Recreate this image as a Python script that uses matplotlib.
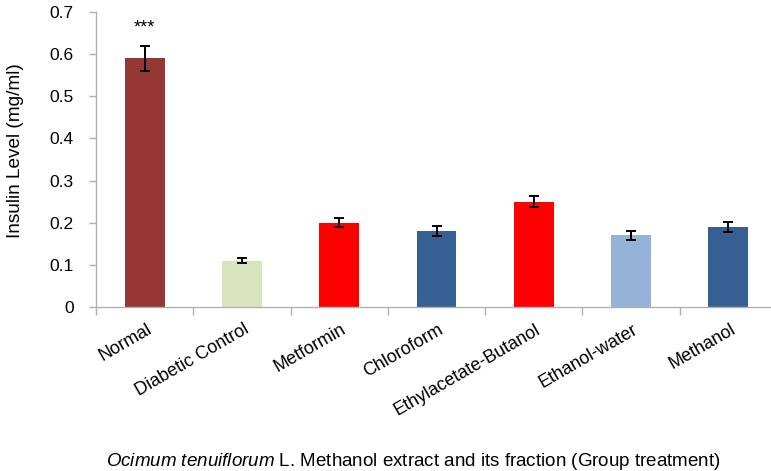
import numpy as np
import matplotlib
matplotlib.use("Agg")
import matplotlib.pyplot as plt
from matplotlib.transforms import offset_copy

plt.rcParams['font.family'] = ['Liberation Sans', 'DejaVu Sans']
plt.rcParams['mathtext.fontset'] = 'custom'
plt.rcParams['mathtext.rm'] = 'Liberation Sans'
plt.rcParams['mathtext.it'] = 'Liberation Sans:italic'

# data
groups = ["Normal", "Diabetic Control", "Metformin", "Chloroform",
          "Ethylacetate-Butanol", "Ethanol-water", "Methanol"]
insulin = [0.59, 0.11, 0.20, 0.18, 0.25, 0.17, 0.19]
sem = [0.030, 0.006, 0.011, 0.012, 0.013, 0.010, 0.011]
colors = ["#953735", "#d7e4bd", "#ff0000", "#376092", "#ff0000", "#95b3d7", "#376092"]

fig = plt.figure(figsize=(7.71, 4.71), dpi=100)
ax = fig.add_axes([96 / 771, 1 - 307 / 471, 681 / 771, 295 / 471])

x = np.arange(len(groups))
ax.bar(x, insulin, width=0.41, color=colors, zorder=2)
ax.errorbar(x, insulin, yerr=sem, fmt='none', ecolor='black',
            elinewidth=1.4, capsize=3.5, capthick=1.4, zorder=3)
ax.text(0, insulin[0] + sem[0] + 0.022, "***", ha='center', va='bottom', fontsize=13)

ax.set_xlim(-0.5, len(groups) - 0.5)
ax.set_ylim(0, 0.7)
ax.set_yticks(np.arange(0, 0.71, 0.1))
ax.set_yticklabels(["0"] + ["%.1f" % v for v in np.arange(0.1, 0.71, 0.1)], fontsize=12.5)

# category boundary ticks on x
ax.set_xticks(np.arange(-0.5, len(groups), 1.0))
ax.set_xticklabels([])
ax.tick_params(axis='x', length=6, color='#b0b0b0', width=1)
ax.tick_params(axis='y', length=5, color='#b0b0b0', width=1, pad=11)

for s in ['top', 'right']:
    ax.spines[s].set_visible(False)
for s in ['left', 'bottom']:
    ax.spines[s].set_color('#b0b0b0')
    ax.spines[s].set_linewidth(1)

for i, g in enumerate(groups):
    tr = offset_copy(ax.get_xaxis_transform(), fig=fig, x=1, y=-10, units='points')
    ax.text(i, 0, g, transform=tr, rotation=30, ha='right', va='top',
            rotation_mode='anchor', fontsize=13)

fig.text(16 / 771, 1 - 151 / 471, "Insulin Level (mg/ml)", rotation=90,
         ha='center', va='center', fontsize=13.7)
fig.text(413 / 771, 1 - 461 / 471,
         r"$\mathit{Ocimum\ tenuiflorum}$ L. Methanol extract and its fraction (Group treatment)",
         ha='center', va='center', fontsize=13.5)

fig.savefig("out.png", dpi=100)
